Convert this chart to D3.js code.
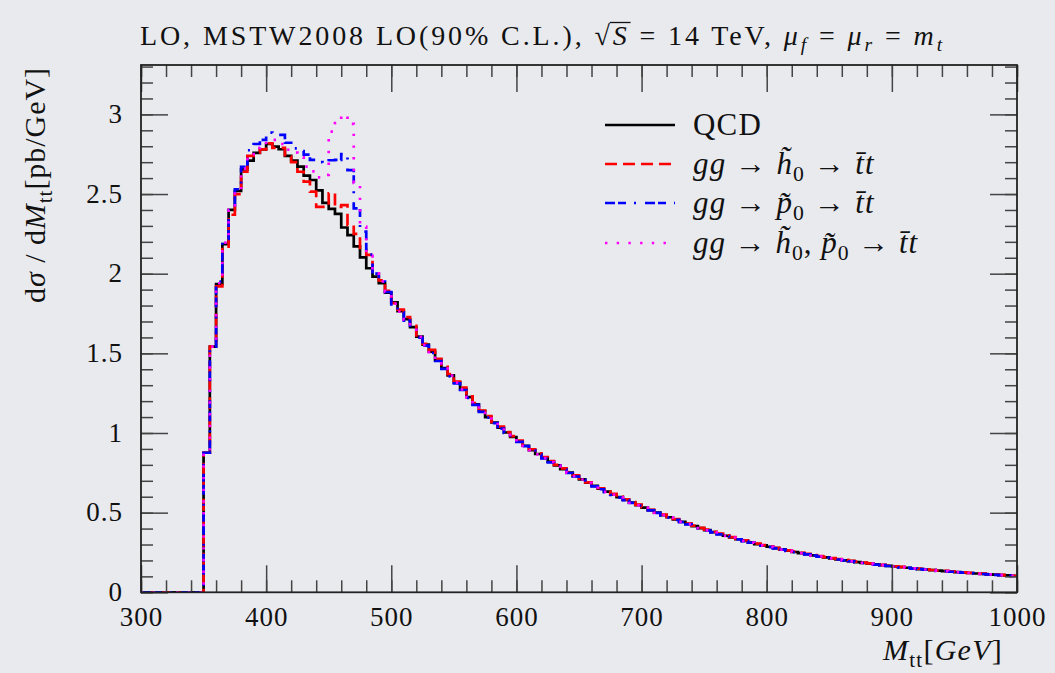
<!DOCTYPE html>
<html><head><meta charset="utf-8">
<script src="https://cdn.jsdelivr.net/npm/d3@7"></script>
<style>
body{margin:0;background:#e9eaee;}
svg{display:block;}
text{font-family:"Liberation Serif","DejaVu Serif",serif;fill:#111;}
</style>
</head><body>
<svg id="c" width="1055" height="673"></svg>
<script>
// ---- data ----
const binEdges = d3.range(300, 1005, 5); // bin edges in GeV (5 GeV bins)
const xTicksMajor = [300, 400, 500, 600, 700, 800, 900, 1000];
const xTicksMinor = d3.range(300, 1001, 20);
const yTicksMajor = [0, 0.5, 1, 1.5, 2, 2.5, 3];
const yTicksMinor = d3.range(0, 3.31, 0.1);
const xTickLabels = ["300","400","500","600","700","800","900","1000"];
const yTickLabels = ["0","0.5","1","1.5","2","2.5","3"];

const qcd = [0,0,0,0,0,0,0,0,0,0,
0.876,1.542,1.935,2.186,2.400,2.519,2.655,2.710,2.758,2.780,
2.814,2.797,2.781,2.740,2.710,2.672,2.615,2.588,2.523,2.444,
2.407,2.376,2.290,2.242,2.172,2.102,2.034,1.981,1.940,1.881,
1.820,1.765,1.715,1.665,1.605,1.555,1.510,1.460,1.408,1.362,
1.318,1.275,1.225,1.180,1.138,1.100,1.066,1.033,1.003,0.975,
0.948,0.920,0.893,0.868,0.843,0.820,0.797,0.773,0.752,0.730,
0.709,0.688,0.668,0.650,0.632,0.614,0.597,0.580,0.563,0.547,
0.532,0.516,0.500,0.485,0.471,0.457,0.443,0.429,0.416,0.403,
0.390,0.378,0.366,0.355,0.344,0.333,0.323,0.313,0.303,0.294,
0.286,0.277,0.269,0.261,0.253,0.246,0.239,0.232,0.225,0.219,
0.213,0.207,0.201,0.196,0.190,0.185,0.180,0.175,0.170,0.166,
0.162,0.158,0.154,0.150,0.146,0.143,0.139,0.136,0.133,0.130,
0.127,0.124,0.121,0.118,0.116,0.113,0.111,0.108,0.106,0.103];

const h0 = [0,0,0,0,0,0,0,0,0,0,
0.876,1.542,1.920,2.170,2.370,2.500,2.640,2.740,2.760,2.780,
2.818,2.790,2.790,2.735,2.700,2.640,2.578,2.515,2.420,2.420,
2.505,2.420,2.430,2.306,2.250,2.150,2.118,2.002,1.958,1.892,
1.815,1.775,1.728,1.672,1.612,1.560,1.522,1.465,1.415,1.370,
1.322,1.285,1.230,1.188,1.140,1.106,1.070,1.040,1.006,0.980,
0.952,0.925,0.898,0.872,0.848,0.823,0.800,0.778,0.755,0.734,
0.713,0.690,0.672,0.653,0.634,0.618,0.600,0.583,0.566,0.550,
0.535,0.518,0.503,0.488,0.473,0.460,0.445,0.432,0.418,0.405,
0.393,0.380,0.368,0.357,0.346,0.335,0.326,0.315,0.305,0.296,
0.288,0.279,0.270,0.263,0.255,0.248,0.241,0.233,0.227,0.221,
0.214,0.209,0.203,0.197,0.192,0.186,0.181,0.176,0.172,0.167,
0.163,0.159,0.155,0.151,0.148,0.144,0.140,0.137,0.134,0.131,
0.128,0.125,0.122,0.119,0.117,0.114,0.111,0.109,0.106,0.104];

const p0 = [0,0,0,0,0,0,0,0,0,0,
0.876,1.542,1.950,2.218,2.410,2.530,2.670,2.775,2.814,2.840,
2.885,2.880,2.871,2.822,2.787,2.770,2.748,2.714,2.700,2.693,
2.712,2.714,2.750,2.650,2.410,2.264,2.120,2.000,1.950,1.885,
1.808,1.758,1.705,1.660,1.598,1.548,1.502,1.452,1.402,1.355,
1.312,1.270,1.220,1.176,1.132,1.096,1.062,1.028,1.000,0.970,
0.944,0.917,0.890,0.864,0.840,0.816,0.794,0.770,0.749,0.727,
0.706,0.686,0.665,0.647,0.629,0.612,0.594,0.578,0.561,0.545,
0.530,0.514,0.498,0.483,0.469,0.455,0.441,0.427,0.414,0.401,
0.388,0.376,0.364,0.353,0.342,0.332,0.321,0.312,0.302,0.293,
0.284,0.276,0.268,0.260,0.252,0.245,0.238,0.231,0.224,0.218,
0.212,0.206,0.200,0.195,0.189,0.184,0.179,0.174,0.170,0.165,
0.161,0.157,0.153,0.149,0.146,0.142,0.139,0.135,0.132,0.129,
0.126,0.123,0.121,0.118,0.115,0.113,0.110,0.108,0.105,0.102];

const h0p0 = [0,0,0,0,0,0,0,0,0,0,
0.876,1.542,1.940,2.195,2.400,2.520,2.660,2.750,2.790,2.808,
2.830,2.840,2.814,2.778,2.760,2.730,2.672,2.642,2.604,2.620,
2.892,2.945,2.996,2.940,2.570,2.295,2.112,2.002,1.952,1.886,
1.812,1.762,1.712,1.664,1.603,1.552,1.508,1.456,1.405,1.360,
1.316,1.274,1.224,1.179,1.136,1.099,1.065,1.031,1.002,0.973,
0.946,0.919,0.892,0.866,0.842,0.818,0.796,0.772,0.751,0.729,
0.708,0.687,0.667,0.649,0.631,0.613,0.596,0.579,0.562,0.546,
0.531,0.515,0.499,0.484,0.470,0.456,0.442,0.428,0.415,0.402,
0.389,0.377,0.365,0.354,0.343,0.332,0.322,0.312,0.303,0.294,
0.285,0.277,0.268,0.261,0.253,0.246,0.238,0.231,0.225,0.219,
0.213,0.207,0.201,0.195,0.190,0.185,0.180,0.175,0.170,0.166,
0.162,0.158,0.154,0.150,0.146,0.143,0.139,0.136,0.133,0.130,
0.127,0.124,0.121,0.118,0.116,0.113,0.111,0.108,0.106,0.103];

const seriesNames = ["QCD", "h0", "p0", "h0p0"];
const seriesValues = [qcd, h0, p0, h0p0];

// ---- styles ----
const styles = [
  {color:"#000000", dash:null, width:2.7},
  {color:"#ff0000", dash:"12,6", width:2.7},
  {color:"#0000ff", dash:"10,3,8,8,2,9", width:2.7},
  {color:"#ff00ff", dash:"2.4,9.3", width:2.7}
];

const svg = d3.select("#c");
const L = 141, R = 1017, T = 65, B = 592.3;
const x = d3.scaleLinear().domain([300, 1000]).range([L, R]);
const y = d3.scaleLinear().domain([0, 3.31]).range([B, T]);

function rich(sel, parts, baseSize) {
  parts.forEach(p => {
    const ts = sel.append("tspan").text(p.t);
    if (p.i) ts.attr("font-style", "italic");
    if (p.sub) {
      ts.attr("font-size", baseSize * 0.7).attr("dy", baseSize * 0.22);
    } else if (p.after) {
      ts.attr("dy", -baseSize * 0.22);
    }
  });
}
function fit(sel, target) {
  const node = sel.node();
  const len = node.getComputedTextLength();
  const n = node.textContent.length;
  sel.attr("letter-spacing", ((target - len) / n).toFixed(3));
}

svg.append("clipPath").attr("id","clip").append("rect")
  .attr("x", L).attr("y", T).attr("width", R-L).attr("height", B-T);

const line = d3.line().x(d => x(d[0])).y(d => y(d[1])).curve(d3.curveStepAfter);
const gLines = svg.append("g").attr("clip-path","url(#clip)");
seriesValues.forEach((vals, k) => {
  const pts = binEdges.map((e, i) => [e, vals[Math.min(i, vals.length - 1)]]);
  gLines.append("path").datum(pts)
    .attr("d", line)
    .attr("fill","none")
    .attr("stroke", styles[k].color)
    .attr("stroke-width", styles[k].width)
    .attr("stroke-dasharray", styles[k].dash)
    .attr("stroke-linejoin","miter");
});

const tickColor = "#444";
function styleAxis(g){
  g.select(".domain").remove();
  g.selectAll(".tick line").attr("stroke", tickColor).attr("stroke-width", 1.5);
  g.selectAll("text").attr("fill","#111").attr("font-family",'"Liberation Serif","DejaVu Serif",serif');
}
svg.append("g").attr("transform",`translate(0,${B})`)
  .call(d3.axisBottom(x).tickValues(xTicksMinor).tickSize(-12).tickFormat(""))
  .call(styleAxis);
svg.append("g").attr("transform",`translate(0,${B})`)
  .call(d3.axisBottom(x).tickValues(xTicksMajor).tickSize(-27).tickPadding(15)
    .tickFormat((d,i) => xTickLabels[i]))
  .call(styleAxis)
  .selectAll("text").attr("font-size", 27).attr("letter-spacing", 1);
svg.append("g").attr("transform",`translate(0,${T})`)
  .call(d3.axisTop(x).tickValues(xTicksMinor).tickSize(-12).tickFormat(""))
  .call(styleAxis);
svg.append("g").attr("transform",`translate(0,${T})`)
  .call(d3.axisTop(x).tickValues(xTicksMajor).tickSize(-27).tickFormat(""))
  .call(styleAxis);
svg.append("g").attr("transform",`translate(${L},0)`)
  .call(d3.axisLeft(y).tickValues(yTicksMinor).tickSize(-12).tickFormat(""))
  .call(styleAxis);
svg.append("g").attr("transform",`translate(${L},0)`)
  .call(d3.axisLeft(y).tickValues(yTicksMajor).tickSize(-27).tickPadding(18)
    .tickFormat((d,i) => yTickLabels[i]))
  .call(styleAxis)
  .selectAll("text").attr("font-size", 27).attr("dy","0.3em").attr("letter-spacing", 1);
svg.append("g").attr("transform",`translate(${R},0)`)
  .call(d3.axisRight(y).tickValues(yTicksMinor).tickSize(-12).tickFormat(""))
  .call(styleAxis);
svg.append("g").attr("transform",`translate(${R},0)`)
  .call(d3.axisRight(y).tickValues(yTicksMajor).tickSize(-27).tickFormat(""))
  .call(styleAxis);

svg.append("rect").attr("x", L).attr("y", T).attr("width", R-L).attr("height", B-T)
  .attr("fill","none").attr("stroke","#222").attr("stroke-width",1.8);

// title
const titleSize = 28;
const title = svg.append("text").attr("x", 140).attr("y", 45).attr("font-size", titleSize);
rich(title, [
  {t:"LO, MSTW2008 LO(90% C.L.), \u221A"},
  {t:"S", i:true},
  {t:" = 14 TeV, "},
  {t:"\u03BC", i:true},
  {t:"f", i:true, sub:true},
  {t:" = ", after:true},
  {t:"\u03BC", i:true},
  {t:"r", i:true, sub:true},
  {t:" = ", after:true},
  {t:"m", i:true},
  {t:"t", i:true, sub:true}
], titleSize);
fit(title, 805);
(function(){
  const idx = "LO, MSTW2008 LO(90% C.L.), \u221A".length;
  const node = title.node();
  const ex = node.getExtentOfChar(idx);
  const sq = node.getExtentOfChar(idx - 1);
  svg.append("line").attr("x1", sq.x + sq.width - 3).attr("x2", ex.x + ex.width + 1)
    .attr("y1", sq.y + 2.5).attr("y2", sq.y + 2.5)
    .attr("stroke","#111").attr("stroke-width",1.3);
})();

// y label
const ylabSize = 30;
const ylab = svg.append("text").attr("transform","translate(45,67) rotate(-90)")
  .attr("text-anchor","end").attr("font-size", ylabSize);
rich(ylab, [
  {t:"d"}, {t:"\u03C3", i:true}, {t:" / d"}, {t:"M", i:true},
  {t:"tt", sub:true}, {t:"[pb/GeV]", after:true}
], ylabSize);
fit(ylab, 236);

// x label
const xlabSize = 30;
const xlab = svg.append("text").attr("x", 1003).attr("y", 660)
  .attr("text-anchor","end").attr("font-size", xlabSize);
rich(xlab, [
  {t:"M", i:true}, {t:"tt", sub:true}, {t:"[", after:true}, {t:"GeV", i:true}, {t:"]"}
], xlabSize);
fit(xlab, 120);

// legend
const legendRowsY = [125, 164, 203, 243];
const legendWidths = [69, 184, 184, 228];
const legendParts = [
  [{t:"QCD"}],
  [{t:"gg", i:true}, {t:" \u2192 "}, {t:"h\u0303", i:true}, {t:"0", sub:true}, {t:" \u2192 ", after:true}, {t:"t\u0304t", i:true}],
  [{t:"gg", i:true}, {t:" \u2192 "}, {t:"p\u0303", i:true}, {t:"0", sub:true}, {t:" \u2192 ", after:true}, {t:"t\u0304t", i:true}],
  [{t:"gg", i:true}, {t:" \u2192 "}, {t:"h\u0303", i:true}, {t:"0", sub:true}, {t:", ", after:true}, {t:"p\u0303", i:true}, {t:"0", sub:true}, {t:" \u2192 ", after:true}, {t:"t\u0304t", i:true}]
];
const legSize = 31;
seriesNames.forEach((n, k) => {
  const yy = legendRowsY[k];
  svg.append("line").attr("x1", 605).attr("x2", 675).attr("y1", yy).attr("y2", yy)
    .attr("stroke", styles[k].color).attr("stroke-width", styles[k].width)
    .attr("stroke-dasharray", styles[k].dash);
  const t = svg.append("text").attr("x", 693).attr("y", yy + 10).attr("font-size", legSize);
  rich(t, legendParts[k], legSize);
  fit(t, legendWidths[k]);
});
</script>
</body></html>
